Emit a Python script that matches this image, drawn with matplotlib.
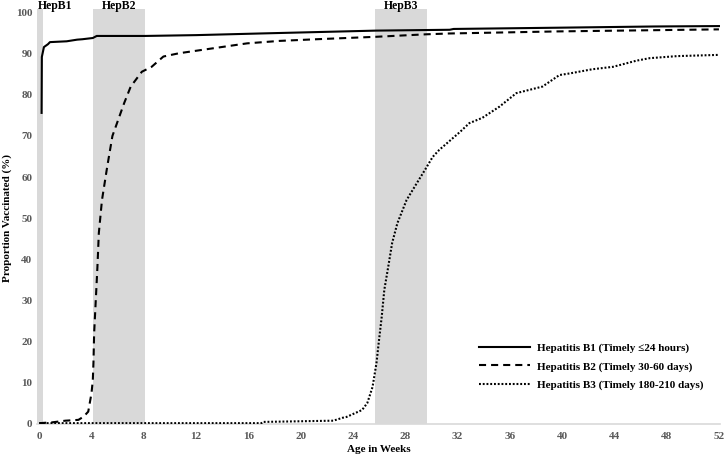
import numpy as np
import matplotlib
matplotlib.use("Agg")
import matplotlib.pyplot as plt
from matplotlib.transforms import blended_transform_factory

# Datos (semanas, % vacunado)
semanas_b1 = [0.18, 0.2, 0.36, 0.67, 0.82, 2.1, 2.9, 3.3, 4.1, 4.4, 8.1, 12, 16.9,
              25.8, 31.4, 31.7, 39.6, 47, 52]
valores_b1 = [75.6, 89.2, 91.6, 92.3, 92.8, 93.0, 93.4, 93.5, 93.8, 94.3, 94.3, 94.5,
              94.9, 95.6, 95.8, 96.0, 96.3, 96.6, 96.7]

semanas_b2 = [0, 1, 2, 3, 3.4, 3.75, 4.0, 4.1, 4.15, 4.2, 4.45, 4.56, 4.8, 5.2, 5.6,
              6.5, 7, 7.85, 8.6, 9.5, 10.7, 13.3, 15.9, 18.4, 21.2, 25.8, 29.6, 31.4,
              39.6, 52]
valores_b2 = [0.2, 0.4, 0.8, 1.0, 1.8, 3.0, 7.5, 10.7, 15, 22, 38, 46.4, 54.4, 62.5,
              70, 78, 82, 85.6, 86.8, 89.3, 90.1, 91.3, 92.5, 93.1, 93.5, 94.1, 94.7,
              94.9, 95.4, 95.9]

semanas_b3 = [0, 17, 17.1, 22.5, 23.2, 23.5, 24.7, 25.1, 25.5, 25.8, 25.97, 26.2, 26.4,
              26.7, 27.0, 27.4, 28.1, 28.9, 29.5, 30.1, 30.6, 32.2, 32.9, 33.9, 35.2,
              36.5, 38.5, 39.8, 40.6, 42.3, 43.9, 45.7, 46.7, 48.8, 52]
valores_b3 = [0.2, 0.2, 0.5, 0.8, 1.5, 1.7, 3.4, 5.1, 9, 14.8, 19.7, 26, 32.6, 38.2, 44,
              48.8, 54.4, 58.6, 61.7, 64.9, 66.6, 71, 73.1, 74.4, 77.1, 80.4, 82, 84.8,
              85.2, 86.2, 86.8, 88.3, 88.9, 89.4, 89.7]

etiquetas = ["Hepatitis B1 (Timely \u226424 hours)",
             "Hepatitis B2 (Timely 30-60 days)",
             "Hepatitis B3 (Timely 180-210 days)"]

# Ventanas de vacunacion oportuna (semanas)
bandas = [(-0.15, 0.3), (4.14, 8.1), (25.7, 29.7)]
nombres_bandas = ["HepB1", "HepB2", "HepB3"]
x_nombres = [1.25, 6.12, 27.7]

fuente = ["Liberation Serif", "DejaVu Serif"]
plt.rcParams["font.family"] = fuente

fig = plt.figure(figsize=(7.25, 4.59), dpi=100)
ax = fig.add_axes([0.0514, 0.0763, 0.9415, 0.9041])

for (x0, x1) in bandas:
    ax.axvspan(x0, x1, color="#d9d9d9", lw=0, zorder=0)

# Nombres de las ventanas encima del area del grafico (x en datos, y en figura)
trans_nombres = blended_transform_factory(ax.transData, fig.transFigure)
for nombre, xn in zip(nombres_bandas, x_nombres):
    ax.text(xn, 1 - 8.5 / 459, nombre, transform=trans_nombres, ha="center",
            va="baseline", fontsize=8.5, fontweight="bold", clip_on=False)

ax.plot(semanas_b1, valores_b1, color="black", lw=1.5, label=etiquetas[0], zorder=3)
ax.plot(semanas_b2, valores_b2, color="black", lw=1.5, dashes=(3.4, 2.4),
        label=etiquetas[1], zorder=3)
ax.plot(semanas_b3, valores_b3, color="black", lw=1.5, dashes=(0.9, 0.9),
        label=etiquetas[2], zorder=3)

ax.set_xlim(-0.15, 52.07)
ax.set_ylim(0, 100.85)
ax.set_xticks(np.arange(0, 53, 4))
ax.set_yticks(np.arange(0, 101, 10))
ax.tick_params(length=0, labelsize=8, labelcolor="#595959")
ax.tick_params(axis="x", pad=6)
ax.tick_params(axis="y", pad=3.5)
for lab in ax.get_xticklabels() + ax.get_yticklabels():
    lab.set_fontweight("bold")

for lado in ["top", "right", "left"]:
    ax.spines[lado].set_visible(False)
ax.spines["bottom"].set_color("#d9d9d9")
ax.spines["bottom"].set_linewidth(1.2)

ax.set_xlabel("Age in Weeks", fontsize=8, fontweight="bold", labelpad=3)
fig.text(0.0103, 1 - 218 / 459, "Proportion Vaccinated (%)", rotation=90,
         ha="center", va="center", fontsize=8, fontweight="bold")

ax.legend(loc="upper left", bbox_to_anchor=(0.655, 0.262), bbox_transform=fig.transFigure,
          frameon=False, prop={"weight": "bold", "size": 8, "family": fuente},
          handlelength=4.6, handletextpad=0.6, labelspacing=0.75, borderaxespad=0)

fig.savefig("out.png", dpi=100)
